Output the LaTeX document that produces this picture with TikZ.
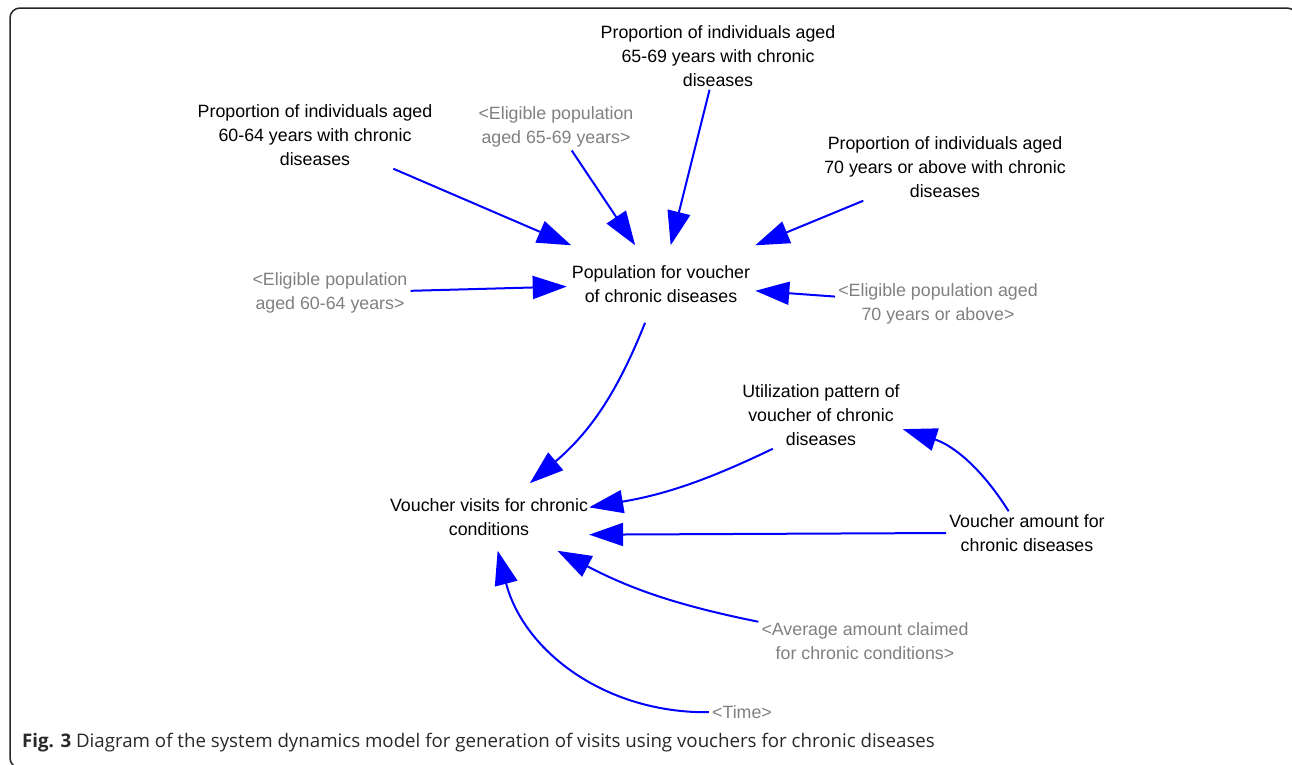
\documentclass[tikz,border=0pt]{standalone}
\usepackage{fontspec}
\setmainfont{Liberation Sans}
\newfontfamily\capfont{Open Sans}
\usetikzlibrary{arrows.meta}
\definecolor{linkblue}{RGB}{0,0,255}
\definecolor{shadowgray}{RGB}{128,128,128}
\definecolor{capgray}{RGB}{40,40,40}
\begin{document}
\begin{tikzpicture}[x=1pt,y=-1pt,font=\fontsize{17.8}{24}\selectfont,
  var/.style={align=center,inner sep=3pt},
  shadow var/.style={var,text=shadowgray},
  link/.style={-{Triangle[length=34pt,width=23pt]},line width=2pt,draw=linkblue}]
\useasboundingbox (0,0) rectangle (1292,764);
\clip (0,0) rectangle (1292,764);
\draw[line width=1.5pt,black!85,rounded corners=10pt] (10,8) rectangle (1297,768);
% variables
\node[var] (p6064) at (315,135) {Proportion of individuals aged\\60-64 years with chronic\\diseases};
\node[shadow var] (e6569) at (556,127) {<Eligible population\\aged 65-69 years>};
\node[var] (p6569) at (718,56) {Proportion of individuals aged\\65-69 years with chronic\\diseases};
\node[var] (p70) at (945,167) {Proportion of individuals aged\\70 years or above with chronic\\diseases};
\node[shadow var] (e6064) at (330,293) {<Eligible population\\aged 60-64 years>};
\node[var,inner xsep=5pt,inner ysep=20pt] (pop) at (661,284) {Population for voucher\\of chronic diseases};
\node[shadow var] (e70) at (938,304) {<Eligible population aged\\70 years or above>};
\node[var] (util) at (821,415) {Utilization pattern of\\voucher of chronic\\diseases};
\node[var,inner xsep=1pt,inner ysep=15pt] (visits) at (489,517) {Voucher visits for chronic\\conditions};
\node[var] (amount) at (1027,533) {Voucher amount for\\chronic diseases};
\node[shadow var] (avg) at (865,641) {<Average amount claimed\\for chronic conditions>};
\node[shadow var] (time) at (742,712) {<Time>};
% links
\draw[link] (p6064) -- (pop);
\draw[link] (e6569) -- (pop);
\draw[link] (p6569) -- (pop);
\draw[link] (p70) -- (pop);
\draw[link] (e6064) -- (pop);
\draw[link] (e70) -- (pop);
\draw[link] (pop) to[bend left=14] (visits);
\draw[link] (util.-145) to[bend left=8] (visits);
\draw[link] (amount.west) -- (visits.-10);
\draw[link] (amount) to[bend right=20] (util);
\draw[link] (avg) to[bend left=8] (visits);
\draw[link] (time) to[bend left=38] (visits);
% caption
\node[anchor=base west,inner sep=0pt,text=capgray,font=\capfont\fontsize{18.7}{22}\selectfont] (caption) at (22,747)
  {\textbf{Fig. 3} Diagram of the system dynamics model for generation of visits using vouchers for chronic diseases};
\end{tikzpicture}
\end{document}
